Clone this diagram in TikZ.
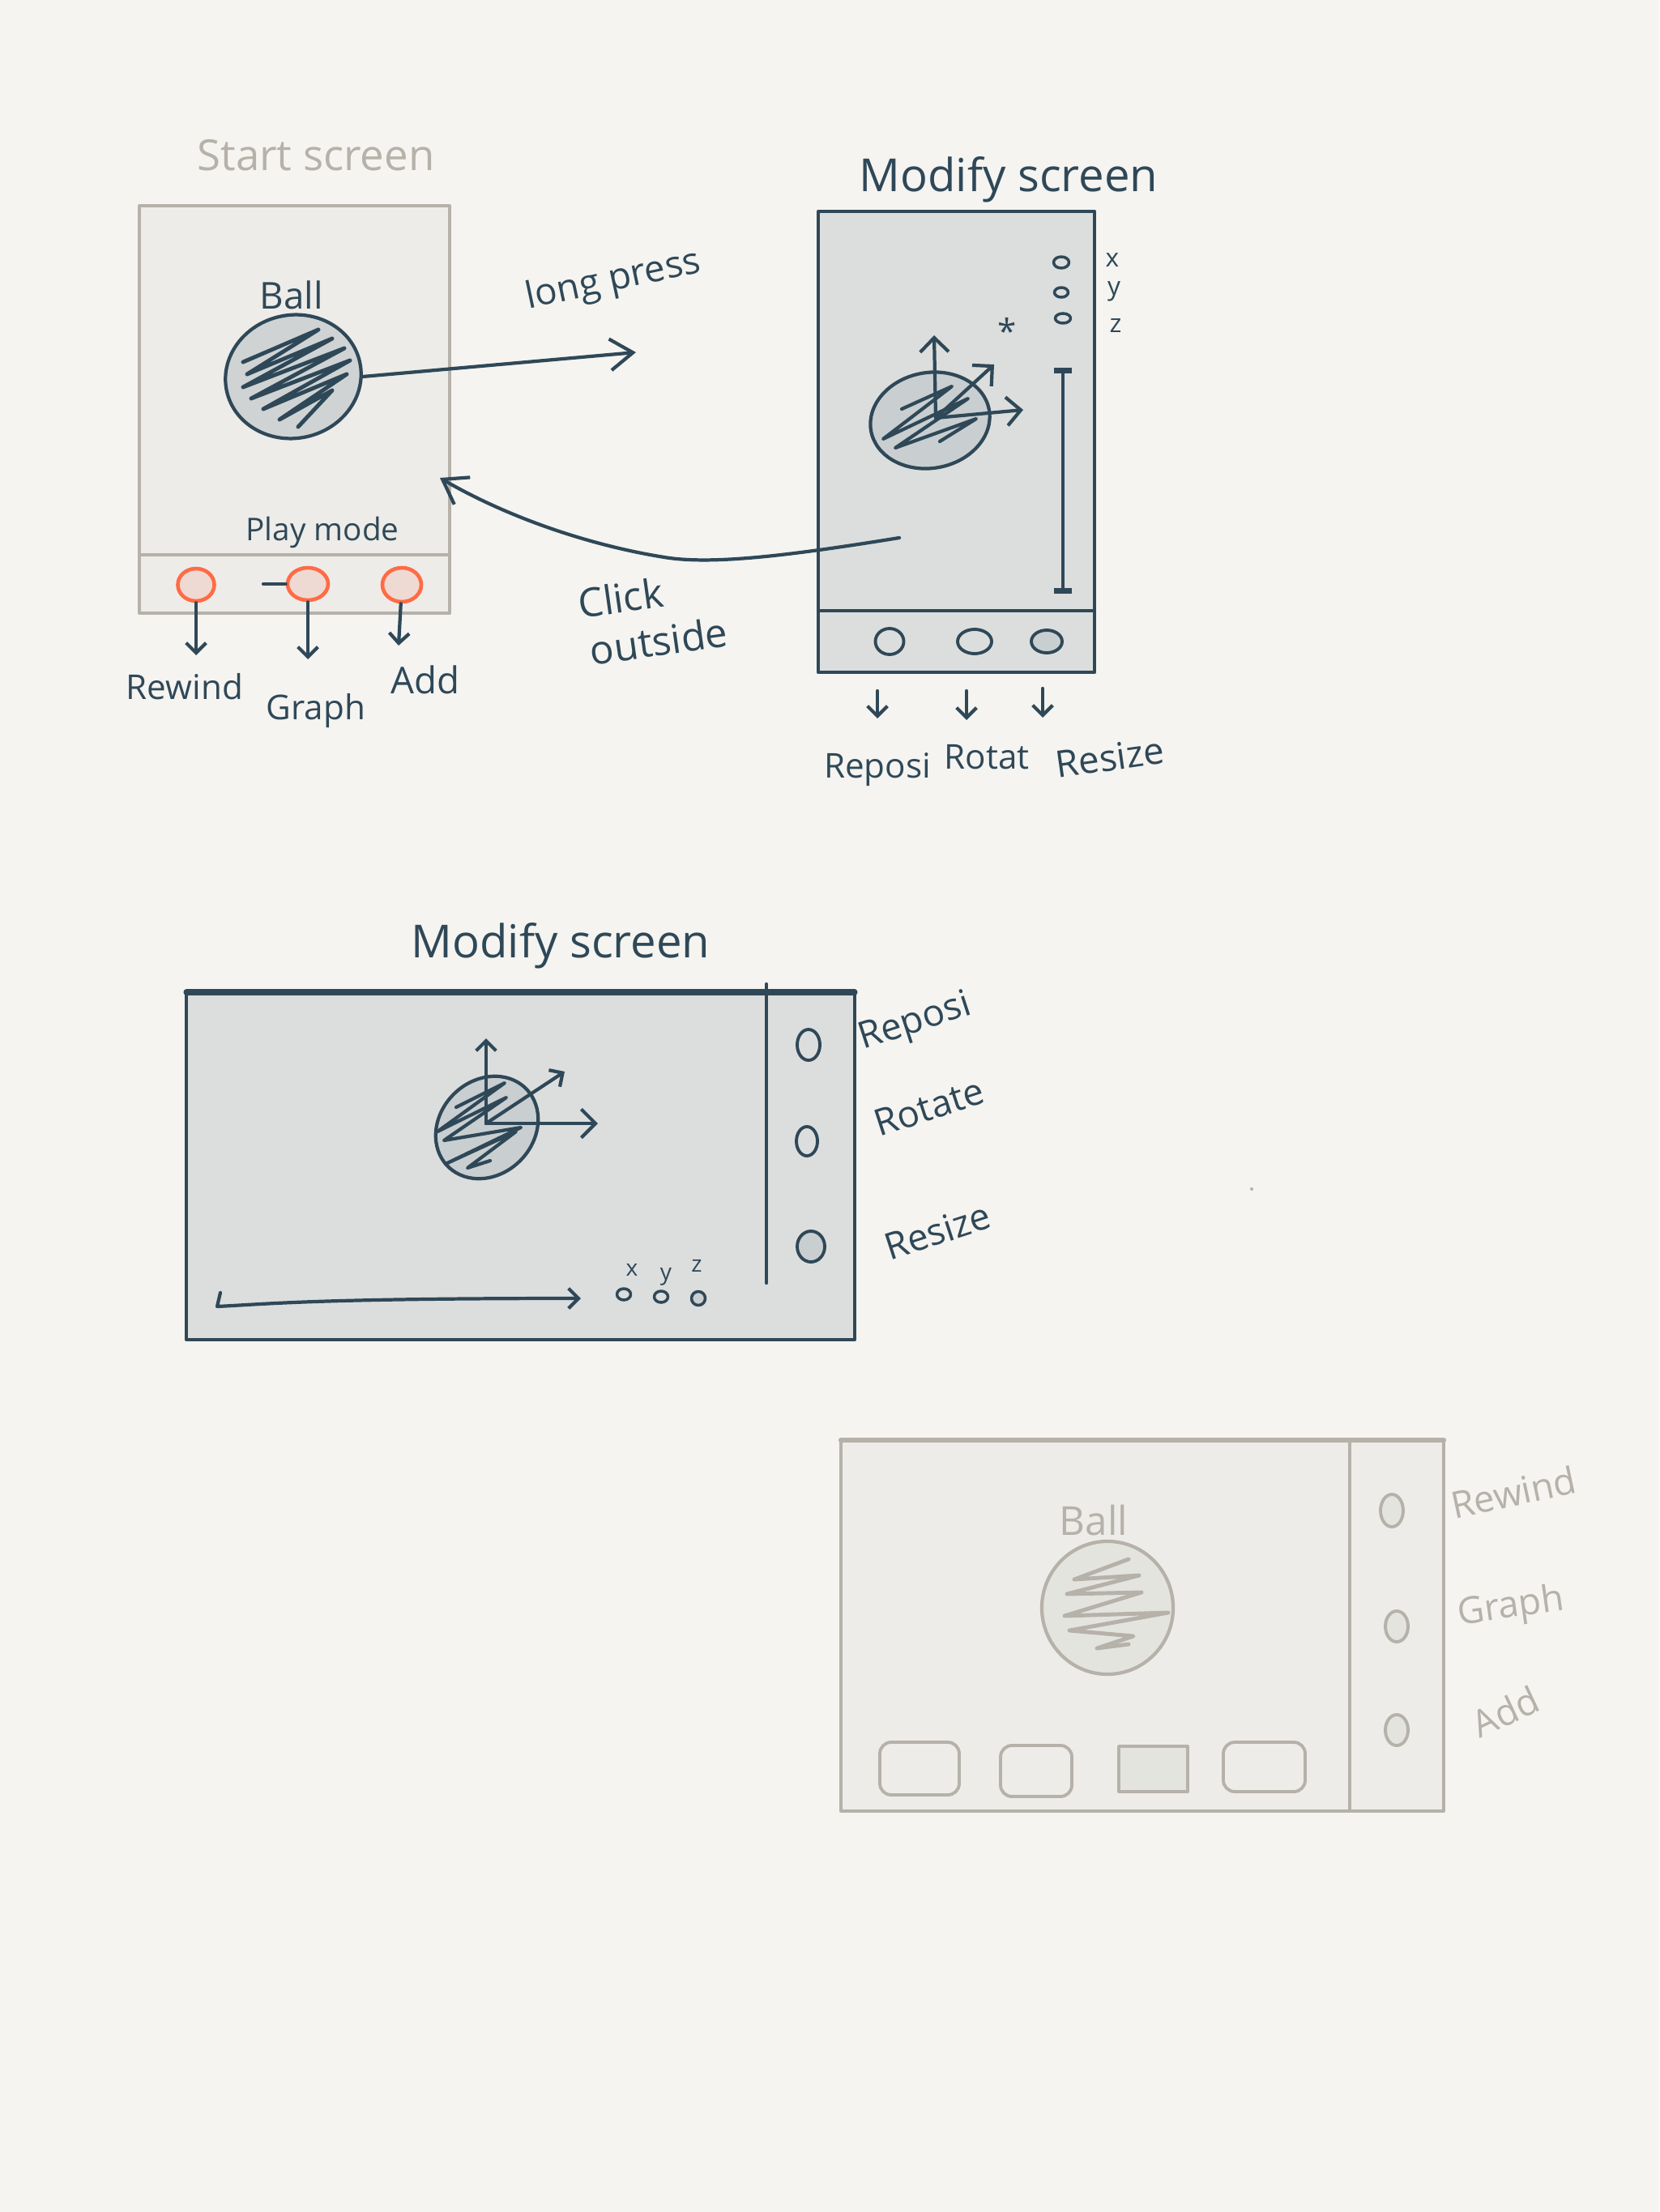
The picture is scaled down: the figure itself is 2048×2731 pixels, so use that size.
\documentclass[tikz,border=0pt]{standalone}
\usepackage{fontspec}
\setmainfont{Open Sans}
\usetikzlibrary{arrows.meta,shapes.geometric,positioning}
\definecolor{paper}{HTML}{F5F4F0}
\definecolor{ink}{HTML}{2F4858}
\definecolor{pencil}{HTML}{B6B1A9}
\definecolor{sheet}{HTML}{EDECE8}
\definecolor{glass}{HTML}{DCDEDD}
\definecolor{ballgrey}{HTML}{C9CED0}
\definecolor{ballpale}{HTML}{E4E4DF}
\definecolor{coral}{HTML}{FF6B45}
\definecolor{blush}{HTML}{EEDAD2}

\begin{document}
\begin{tikzpicture}[x=0.01cm,y=-0.01cm,line cap=round,line join=round,
	>={Straight Barb[length=8pt,width=11pt]},
	ink line/.style={draw=ink,line width=1.2pt},
	pale line/.style={draw=pencil,line width=1.1pt},
	small tip/.style={-{Straight Barb[length=3.5pt,width=7pt]}},
	axis tip/.style={-{Straight Barb[length=5pt,width=10pt]}},
	hand/.style={text=ink,inner sep=0pt,font=\fontsize{13}{15}\selectfont},
	pale hand/.style={hand,text=pencil},
	big hand/.style={hand,font=\fontsize{16}{19}\selectfont},
	tiny hand/.style={hand,font=\fontsize{8}{9}\selectfont},
	ball/.style={ellipse,inner sep=0pt,line width=1.2pt},
	knob/.style={ellipse,draw=ink,line width=1.1pt,inner sep=0pt},
	pale knob/.style={ellipse,draw=pencil,line width=1.1pt,inner sep=0pt,fill=ballpale}]

	\fill[paper] (0,0) rectangle (2048,2731);
	\useasboundingbox (0,0) rectangle (2048,2731);

	% start screen
	\draw[pale line,fill=sheet] (172,254) rectangle (555,757);
	\draw[pale line] (172,685) -- (555,685);
	\node[pale hand,font=\fontsize{15}{18}\selectfont] (t1) at (390,192) {Start screen};
	\node[hand] (balltxt1) at (360,364) {Ball};
	\node[ball,draw=ink,fill=ballgrey!70!glass,minimum width=1.68cm,minimum height=1.52cm,rotate=12] (ball1) at (362,465) {};
	\draw[ink line,line width=1.4pt] (300,447) -- (393,407) -- (305,462) -- (410,418) -- (300,478) -- (425,430) -- (310,492) -- (432,445) -- (325,505) -- (428,462) -- (345,518) -- (410,482) -- (368,527);
	\node[hand,font=\fontsize{11}{13}\selectfont] (play) at (398,657) {Play mode};
	\node[knob,draw=coral,fill=blush,line width=1.3pt,minimum width=0.45cm,minimum height=0.40cm] (b1) at (242,722) {};
	\node[knob,draw=coral,fill=blush,line width=1.3pt,minimum width=0.50cm,minimum height=0.40cm] (b2) at (380,721) {};
	\node[knob,draw=coral,fill=blush,line width=1.3pt,minimum width=0.48cm,minimum height=0.42cm] (b3) at (496,722) {};
	\coordinate (d2) at (325,721);
	\draw[ink line] (d2) -- (b2.west);
	\coordinate (b1end) at (242,809);
	\coordinate (b2end) at (380,814);
	\coordinate (b3end) at (492,797);
	\draw[ink line,small tip] (b1) -- (b1end);
	\draw[ink line,small tip] (b2) -- (b2end);
	\draw[ink line,small tip] (b3) -- (b3end);
	\node[hand,font=\fontsize{12}{14}\selectfont] (rew) at (228,848) {Rewind};
	\node[hand,font=\fontsize{12}{14}\selectfont] (graph) at (390,878) {Graph};
	\node[hand] (add) at (525,839) {Add};

	% long press
	\coordinate (lpend) at (785,435);
	\draw[ink line,->] (ball1.-12) -- (lpend);
	\node[hand,rotate=12] (lp) at (757,347) {long press};

	% modify screen, portrait
	\draw[ink line,fill=glass] (1010,261) rectangle (1351,830);
	\draw[ink line] (1010,754) -- (1351,754);
	\node[big hand] (t2) at (1245,222) {Modify screen};
	\node[ball,draw=ink,fill=ballgrey,minimum width=1.48cm,minimum height=1.18cm,rotate=10] (ball2) at (1148,519) {};
	\draw[ink line] (1113,505) -- (1175,477) -- (1090,542) -- (1195,492) -- (1105,553) -- (1205,517) -- (1160,545);
	\coordinate (o2) at (1155,516);
	\coordinate (up2) at (1153,414);
	\coordinate (rt2) at (1263,506);
	\coordinate (dg2) at (1227,450);
	\draw[ink line,axis tip] (o2) -- (up2);
	\draw[ink line,axis tip] (o2) -- (rt2);
	\draw[ink line,axis tip] (o2) -- (dg2);
	\node[hand,font=\fontsize{12}{12}\selectfont] (star) at (1243,408) {*};
	\node[knob,line width=1pt,minimum width=0.19cm,minimum height=0.14cm] (cx) at (1310,324) {};
	\node[knob,line width=1pt,minimum width=0.17cm,minimum height=0.12cm] (cy) at (1310,361) {};
	\node[knob,line width=1pt,minimum width=0.19cm,minimum height=0.12cm] (cz) at (1312,393) {};
	\node[tiny hand,font=\fontsize{9}{10}\selectfont] (lx) at (1373,321) {x};
	\node[tiny hand,font=\fontsize{9}{10}\selectfont] (ly) at (1375,360) {y};
	\node[tiny hand,font=\fontsize{9}{10}\selectfont] (lz) at (1377,402) {z};
	\coordinate (s1) at (1312,454);
	\coordinate (s2) at (1312,733);
	\draw[ink line,{Bar[width=6pt,line width=2pt]}-{Bar[width=6pt,line width=2pt]}] (s1) -- (s2);
	\node[knob,minimum width=0.35cm,minimum height=0.32cm] (m1) at (1098,792) {};
	\node[knob,minimum width=0.42cm,minimum height=0.30cm] (m2) at (1203,792) {};
	\node[knob,fill=ballgrey,minimum width=0.38cm,minimum height=0.28cm] (m3) at (1292,792) {};
	\coordinate (a1s) at (1083,853);
	\coordinate (a1e) at (1083,887);
	\coordinate (a2s) at (1193,853);
	\coordinate (a2e) at (1193,889);
	\coordinate (a3s) at (1287,850);
	\coordinate (a3e) at (1287,886);
	\draw[ink line,small tip] (a1s) -- (a1e);
	\draw[ink line,small tip] (a2s) -- (a2e);
	\draw[ink line,small tip] (a3s) -- (a3e);
	\node[hand,font=\fontsize{12}{14}\selectfont] (rp1) at (1083,950) {Reposi};
	\node[hand,font=\fontsize{12}{14}\selectfont] (ro1) at (1218,935) {Rotat};
	\node[hand,rotate=8] (rs1) at (1370,935) {Resize};

	% click outside
	\coordinate (co1) at (1110,664);
	\coordinate (co2) at (543,590);
	\draw[ink line,->] (co1) .. controls (980,685) and (880,698) .. (820,688) .. controls (720,672) and (620,635) .. (co2);
	\node[hand,font=\fontsize{14}{16}\selectfont,rotate=8] (click) at (766,738) {Click};
	\node[hand,font=\fontsize{14}{16}\selectfont,rotate=8] (outside) at (813,791) {outside};

	% modify screen, landscape
	\draw[ink line,fill=glass] (230,1225) rectangle (1055,1654);
	\draw[ink line,line width=2pt] (230,1225) -- (1055,1225);
	\draw[ink line] (946,1215) -- (946,1584);
	\node[big hand] (t3) at (692,1168) {Modify screen};
	\node[ball,draw=ink,fill=ballgrey,minimum width=1.36cm,minimum height=1.16cm,rotate=45] (ball3) at (601,1392) {};
	\draw[ink line] (563,1367) -- (623,1337) -- (540,1397) -- (625,1355) -- (548,1408) -- (643,1392) -- (550,1437) -- (637,1397) -- (577,1442) -- (605,1433);
	\coordinate (o3) at (600,1387);
	\coordinate (up3) at (600,1282);
	\coordinate (rt3) at (738,1387);
	\coordinate (dg3) at (697,1323);
	\draw[ink line,small tip] (o3) -- (up3);
	\draw[ink line,axis tip] (o3) -- (rt3);
	\draw[ink line,small tip] (o3) -- (dg3);
	\node[knob,minimum width=0.28cm,minimum height=0.38cm] (r1) at (998,1290) {};
	\node[knob,minimum width=0.26cm,minimum height=0.36cm] (r2) at (996,1409) {};
	\node[knob,fill=ballgrey,minimum width=0.34cm,minimum height=0.38cm] (r3) at (1001,1539) {};
	\node[hand,rotate=18] (rp2) at (1130,1263) {Reposi};
	\node[hand,rotate=18] (ro2) at (1147,1367) {Rotate};
	\node[hand,rotate=18] (rs2) at (1157,1520) {Resize};
	\coordinate (tl0) at (272,1596);
	\coordinate (tl1) at (268,1613);
	\coordinate (tl2) at (717,1603);
	\draw[ink line,small tip] (tl0) -- (tl1) .. controls (330,1610) and (390,1603) .. (tl2);
	\node[knob,line width=1pt,minimum width=0.17cm,minimum height=0.14cm] (px) at (770,1598) {};
	\node[knob,line width=1pt,minimum width=0.17cm,minimum height=0.14cm] (py) at (816,1601) {};
	\node[knob,line width=1pt,fill=ballgrey,minimum width=0.17cm,minimum height=0.17cm] (pz) at (862,1603) {};
	\node[tiny hand] (qx) at (780,1568) {x};
	\node[tiny hand] (qy) at (822,1576) {y};
	\node[tiny hand] (qz) at (860,1563) {z};
	\fill[pencil] (1545,1468) circle (2);

	% play screen, landscape
	\draw[pale line,fill=sheet] (1038,1778) rectangle (1782,2236);
	\draw[pale line,line width=1.8pt] (1038,1778) -- (1782,1778);
	\draw[pale line] (1666,1778) -- (1666,2236);
	\node[pale hand,font=\fontsize{14}{16}\selectfont] (balltxt4) at (1350,1877) {Ball};
	\node[ball,draw=pencil,fill=ballpale,minimum width=1.62cm,minimum height=1.64cm] (ball4) at (1367,1985) {};
	\draw[pale line,line width=1.4pt] (1393,1925) -- (1326,1950) -- (1406,1945) -- (1317,1968) -- (1409,1966) -- (1314,1995) -- (1442,1991) -- (1320,2013) -- (1399,2020) -- (1354,2035) -- (1393,2030);
	\node[pale knob,minimum width=0.28cm,minimum height=0.40cm] (g1) at (1718,1865) {};
	\node[pale knob,minimum width=0.28cm,minimum height=0.38cm] (g2) at (1724,2008) {};
	\node[pale knob,minimum width=0.28cm,minimum height=0.38cm] (g3) at (1724,2136) {};
	\node[pale hand,rotate=12] (rew4) at (1868,1842) {Rewind};
	\node[pale hand,rotate=8] (graph4) at (1865,1985) {Graph};
	\node[pale hand,rotate=25] (add4) at (1858,2113) {Add};
	\draw[pale line,rounded corners=4pt] (1086,2151) rectangle (1184,2216);
	\draw[pale line,rounded corners=4pt] (1235,2155) rectangle (1323,2218);
	\draw[pale line,fill=ballpale] (1381,2156) rectangle (1466,2212);
	\draw[pale line,rounded corners=4pt] (1510,2151) rectangle (1611,2212);
\end{tikzpicture}
\end{document}
